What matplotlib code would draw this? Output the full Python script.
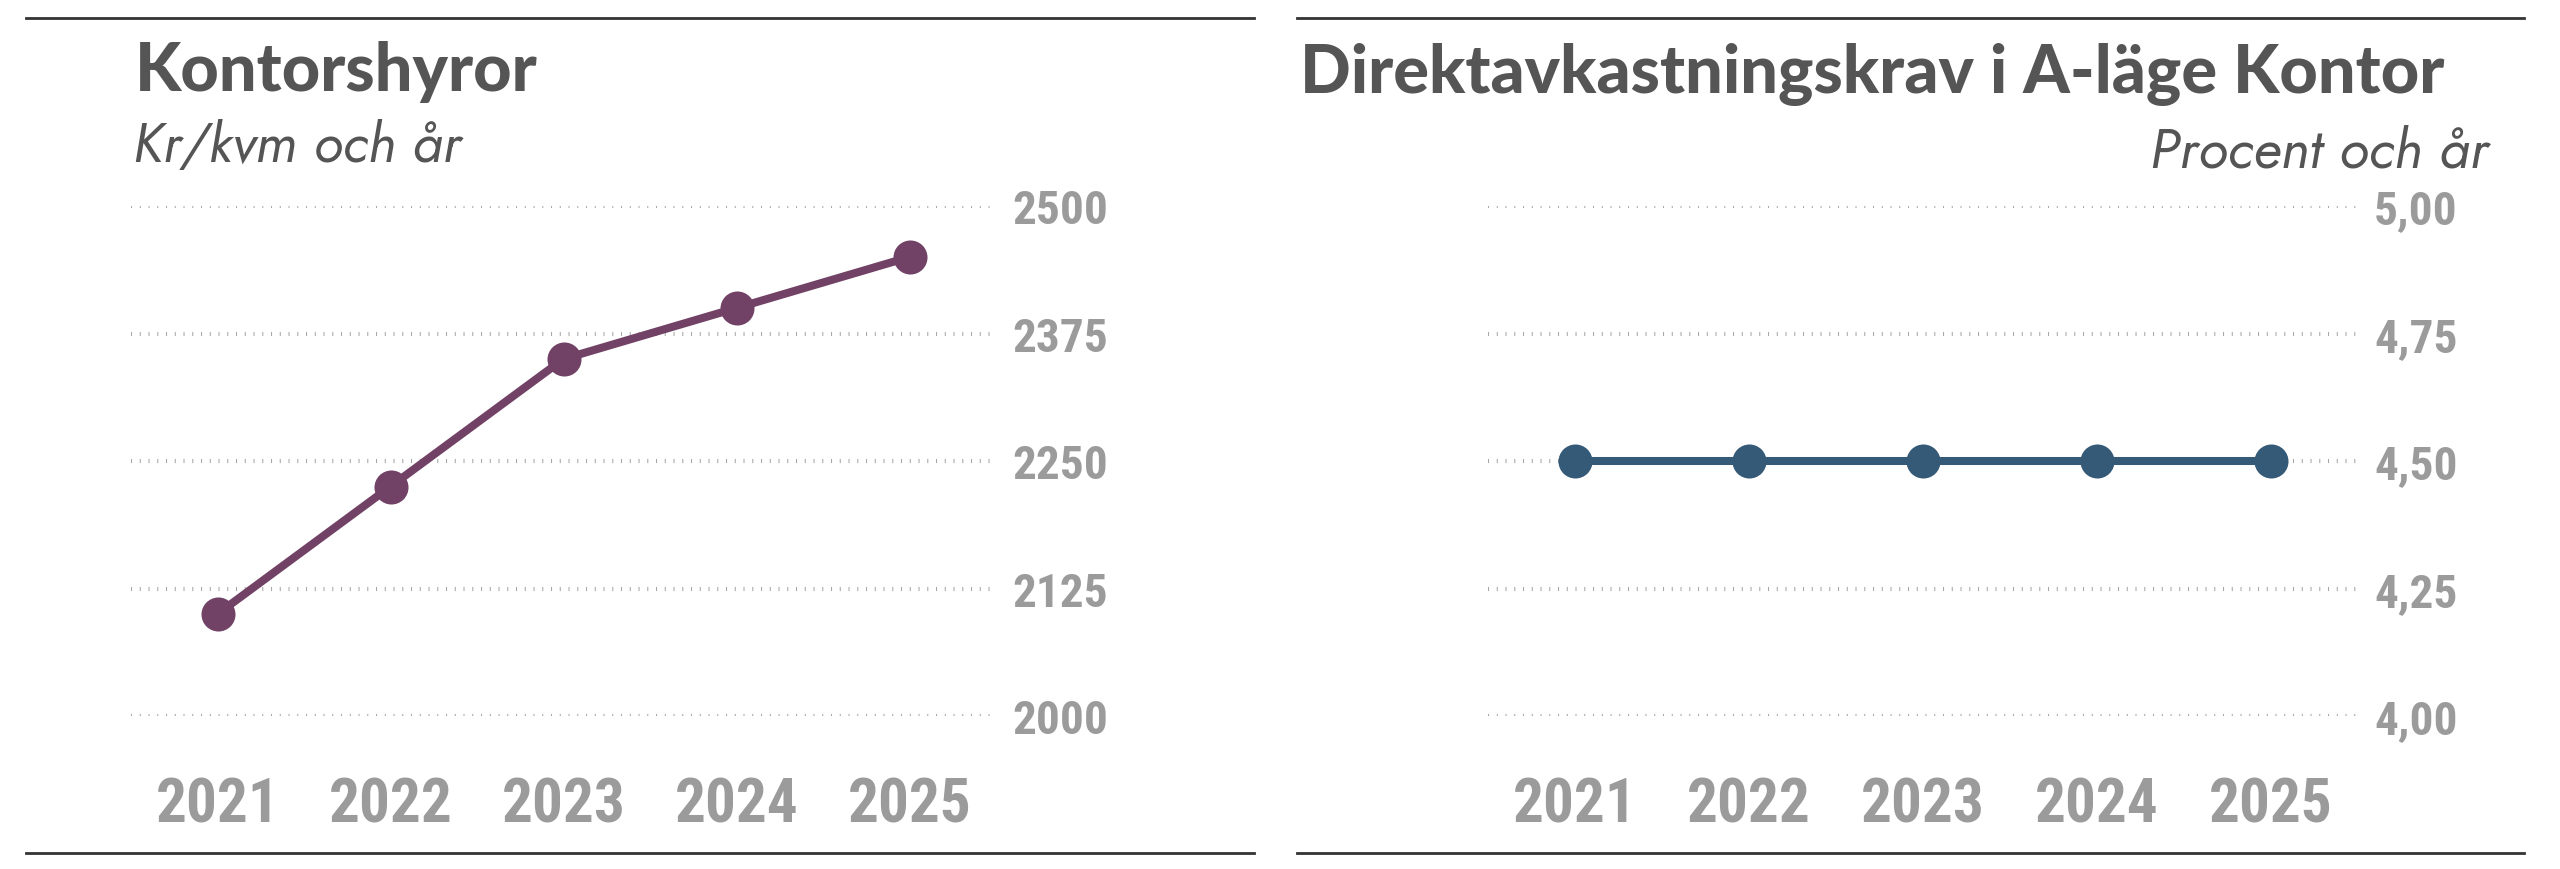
import matplotlib
matplotlib.use("Agg")
import matplotlib.pyplot as plt
from matplotlib.lines import Line2D
from matplotlib.transforms import blended_transform_factory
from matplotlib import font_manager as fm

# ---- data ----
years = [2021, 2022, 2023, 2024, 2025]
rent_values = [2100, 2225, 2350, 2400, 2450]
yield_values = [4.50, 4.50, 4.50, 4.50, 4.50]
rent_ticks = [2000, 2125, 2250, 2375, 2500]
rent_tick_labels = ["2000", "2125", "2250", "2375", "2500"]
yield_ticks = [4.00, 4.25, 4.50, 4.75, 5.00]
yield_tick_labels = ["4,00", "4,25", "4,50", "4,75", "5,00"]
left_title = "Kontorshyror"
left_subtitle = "Kr/kvm och år"
right_title = "Direktavkastningskrav i A-läge Kontor"
right_subtitle = "Procent och år"


# ---- font selection ----
def _w(f):
    try:
        return int(f.weight)
    except Exception:
        return {"ultralight": 200, "light": 300, "normal": 400, "regular": 400,
                "medium": 500, "semibold": 600, "demibold": 600, "bold": 700,
                "heavy": 800, "extra bold": 800, "black": 900}.get(str(f.weight), 400)


def has(name, wmin=0, wmax=1000, style=None):
    for f in fm.fontManager.ttflist:
        if f.name == name and wmin <= _w(f) <= wmax and (style is None or f.style == style):
            return True
    return False


def pick(cands, wmin=0, wmax=1000, style=None, default="Lato"):
    for c in cands:
        if has(c, wmin, wmax, style):
            return c
    return default


TITLE_FONT = pick(["Jost", "League Spartan", "Spartan", "Outfit", "Lato"], wmin=700)
SUB_FONT = pick(["Jost", "Lato"], wmin=300, wmax=450, style="italic")
NUM_FONT = pick(["Roboto Condensed", "Barlow Condensed", "Archivo Narrow",
                 "Encode Sans Condensed", "Fira Sans Condensed", "PT Sans Narrow",
                 "Lato"], wmin=700)

W, H = 2560, 870
fig = plt.figure(figsize=(W / 100, H / 100), dpi=100)
fig.patch.set_facecolor("white")

TITLE_C = "#555555"
TICK_C = "#9b9b9b"
GRID_C = "#a8a8a8"


def px(x, y):
    return x / W, 1 - y / H


def panel(rect, values, ticks, tick_labels, ylim, color, lw):
    ax = fig.add_axes(rect)
    ax.set_xlim(2020.5, 2025.5)
    ax.set_ylim(*ylim)
    for s in ax.spines.values():
        s.set_visible(False)
    ax.set_axisbelow(True)
    ax.set_yticks(ticks)
    ax.set_yticklabels(tick_labels)
    ax.yaxis.tick_right()
    ax.tick_params(axis="y", length=0, pad=11.5, labelcolor=TICK_C)
    for lab in ax.get_yticklabels():
        lab.set_fontfamily(NUM_FONT)
        lab.set_fontweight(900)
        lab.set_fontsize(34)
        lab.set_horizontalalignment("left")
    ax.set_xticks([])
    ax.grid(axis="y", color=GRID_C, linewidth=3, linestyle=(0, (0.25, 1.85)))
    ax.plot(years, values, color=color, lw=lw, marker="o", markersize=24.5,
            markeredgewidth=0, solid_capstyle="round", clip_on=False, zorder=3)
    tr = blended_transform_factory(ax.transData, ax.transAxes)
    for yr in years:
        ax.text(yr, -0.206, str(yr), transform=tr, ha="center", va="baseline",
                fontsize=44, fontweight=900, family=NUM_FONT, color=TICK_C)
    return ax


ax1 = panel([131 / W, 1 - 717 / H, 865 / W, 510 / H], rent_values, rent_ticks,
            rent_tick_labels, (2000, 2500), "#724266", 5.8)
ax2 = panel([1488 / W, 1 - 717 / H, 870 / W, 510 / H], yield_values, yield_ticks,
            yield_tick_labels, (4.0, 5.0), "#355a78", 5.8)

# titles
fig.text(*px(135, 91), left_title, fontsize=48, fontweight=900, family=TITLE_FONT,
         color=TITLE_C, va="baseline", ha="left")
fig.text(*px(133, 162), left_subtitle, fontsize=39.5, fontweight="normal", style="italic",
         family=SUB_FONT, color=TITLE_C, va="baseline", ha="left")
fig.text(*px(1300, 93), right_title, fontsize=48, fontweight=900, family=TITLE_FONT,
         color=TITLE_C, va="baseline", ha="left")
fig.text(*px(2488, 167), right_subtitle, fontsize=40, fontweight="normal", style="italic",
         family=SUB_FONT, color=TITLE_C, va="baseline", ha="right")

# rules
for x0, x1 in [(26, 1254), (1297, 2524)]:
    for y in (19, 854):
        fig.add_artist(Line2D([x0 / W, x1 / W], [1 - y / H, 1 - y / H],
                              color="#333333", lw=2))

fig.savefig("out.png", dpi=100, facecolor="white")
